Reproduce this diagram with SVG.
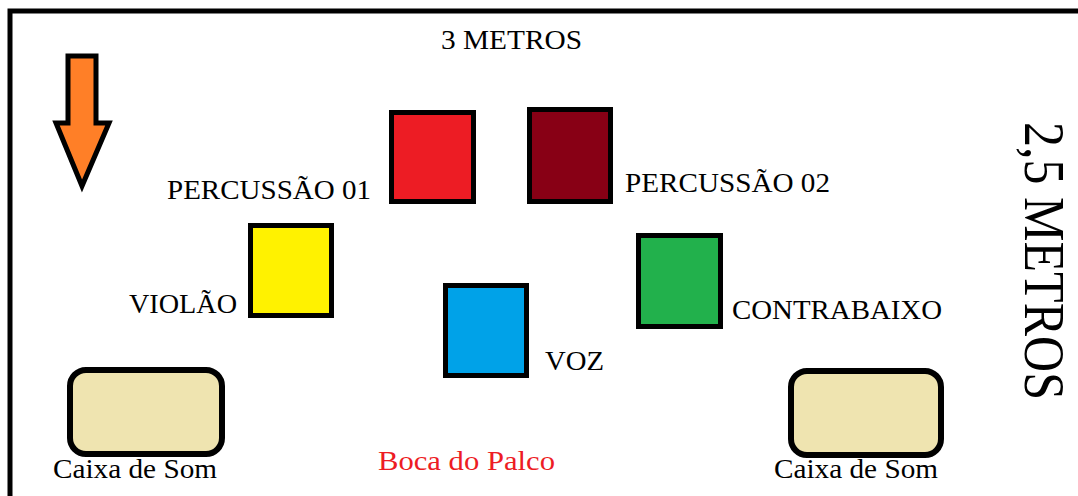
<svg xmlns="http://www.w3.org/2000/svg" width="1078" height="496" viewBox="0 0 1078 496">
<style>
.t{font-family:"Liberation Serif","Times New Roman",serif;fill:#000}
.box{stroke:#000;stroke-width:5}
.spk{fill:#EFE4B0;stroke:#000;stroke-width:6}
</style>
<rect width="1078" height="496" fill="#fff"/>
<path d="M10,496 V11 H1078" fill="none" stroke="#000" stroke-width="5"/>
<g id="arrow">
<polygon points="68,56 96,56 96,123 109,123 82,186 56,123 68,123" fill="#FF7F27" stroke="#000" stroke-width="5" stroke-linejoin="miter"/>
</g>
<text class="t" x="441" y="49" font-size="27" textLength="141" lengthAdjust="spacingAndGlyphs">3 METROS</text>
<text class="t" transform="translate(1025,122) rotate(90)" font-size="58" textLength="278" lengthAdjust="spacingAndGlyphs">2,5 METROS</text>
<g id="percussao01">
<rect class="box" x="391.5" y="112.5" width="82" height="89" fill="#ED1C24"/>
<text class="t" x="167" y="199" font-size="28" textLength="204" lengthAdjust="spacingAndGlyphs">PERCUSSÃO 01</text>
</g>
<g id="percussao02">
<rect class="box" x="529.5" y="109.5" width="81" height="92" fill="#880015"/>
<text class="t" x="625" y="192" font-size="28" textLength="205" lengthAdjust="spacingAndGlyphs">PERCUSSÃO 02</text>
</g>
<g id="violao">
<rect class="box" x="250.5" y="225.5" width="81" height="90" fill="#FFF200"/>
<text class="t" x="129" y="313" font-size="28" textLength="108" lengthAdjust="spacingAndGlyphs">VIOLÃO</text>
</g>
<g id="contrabaixo">
<rect class="box" x="638.5" y="235.5" width="82" height="91" fill="#22B14C"/>
<text class="t" x="732" y="319" font-size="28" textLength="210" lengthAdjust="spacingAndGlyphs">CONTRABAIXO</text>
</g>
<g id="voz">
<rect class="box" x="445.5" y="285.5" width="81" height="90" fill="#00A2E8"/>
<text class="t" x="545" y="370" font-size="28" textLength="59" lengthAdjust="spacingAndGlyphs">VOZ</text>
</g>
<g id="caixa-esq">
<rect class="spk" x="70" y="370" width="152" height="84" rx="16"/>
<text class="t" x="53" y="478" font-size="27" textLength="164" lengthAdjust="spacingAndGlyphs">Caixa de Som</text>
</g>
<g id="caixa-dir">
<rect class="spk" x="791" y="371" width="150" height="84" rx="16"/>
<text class="t" x="774" y="478" font-size="27" textLength="164" lengthAdjust="spacingAndGlyphs">Caixa de Som</text>
</g>
<g id="boca">
<text class="t" x="378" y="470" font-size="27" style="fill:#ED1C24" textLength="177" lengthAdjust="spacingAndGlyphs">Boca do Palco</text>
</g>
<g id="connectors"/>
</svg>
